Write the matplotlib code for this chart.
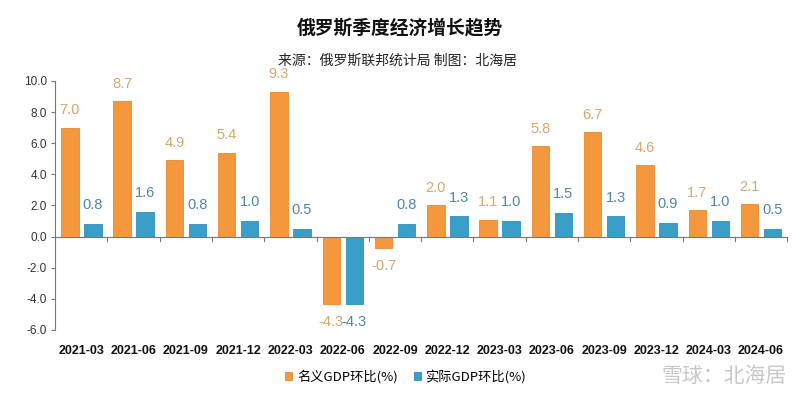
import matplotlib
matplotlib.use("Agg")
import matplotlib.pyplot as plt
import numpy as np
from matplotlib.ticker import FixedLocator, FormatStrFormatter

plt.rcParams['font.family'] = ['Liberation Sans', 'Noto Sans CJK SC', 'DejaVu Sans']

categories = ["2021-03", "2021-06", "2021-09", "2021-12", "2022-03", "2022-06", "2022-09",
              "2022-12", "2023-03", "2023-06", "2023-09", "2023-12", "2024-03", "2024-06"]
nominal = [7.0, 8.7, 4.9, 5.4, 9.3, -4.3, -0.7, 2.0, 1.1, 5.8, 6.7, 4.6, 1.7, 2.1]
real = [0.8, 1.6, 0.8, 1.0, 0.5, -4.3, 0.8, 1.3, 1.0, 1.5, 1.3, 0.9, 1.0, 0.5]
series_names = ["名义GDP环比(%)", "实际GDP环比(%)"]
yticks = [-6.0, -4.0, -2.0, 0.0, 2.0, 4.0, 6.0, 8.0, 10.0]

orange = "#F5983D"
blue = "#3A9FC8"
orange_lbl = "#D9A56E"
blue_lbl = "#4E86A8"

fig = plt.figure(figsize=(8, 4), dpi=100)
fig.patch.set_facecolor("white")
ax = fig.add_axes([0.069, 0.175, 0.915, 0.6225])

x = np.arange(len(categories))
w = 0.335
off = 0.22
b1 = ax.bar(x - off, nominal, w, color=orange, edgecolor="#E88A2E", linewidth=0.6, zorder=2)
b2 = ax.bar(x + off, real, w, color=blue, edgecolor="#2F8FB8", linewidth=0.6, zorder=2)

for xi, v in zip(x, nominal):
    ax.annotate(f"{v:.1f}", (xi - off, v), xytext=(0, 7.5 if v >= 0 else -8), textcoords="offset points",
                ha="center", va="bottom" if v >= 0 else "top", fontsize=10.5, color=orange_lbl, zorder=3)
for xi, v in zip(x, real):
    ax.annotate(f"{v:.1f}", (xi + off, v), xytext=(0, 8.5 if v >= 0 else -8), textcoords="offset points",
                ha="center", va="bottom" if v >= 0 else "top", fontsize=10.5, color=blue_lbl, zorder=3)

ax.set_xlim(-0.5, len(categories) - 0.5)
ax.set_ylim(-6, 10)
ax.yaxis.set_major_locator(FixedLocator(yticks))
ax.yaxis.set_major_formatter(FormatStrFormatter("%.1f"))
ax.tick_params(axis="y", direction="out", length=3, width=0.8, color="#777777", labelsize=8.5,
               labelcolor="#333333", pad=3)

ax.set_xticks(x)
ax.set_xticklabels(categories, fontsize=9, fontweight="bold", color="#111111")
ax.tick_params(axis="x", length=0, pad=11)

for s in ["top", "right", "bottom"]:
    ax.spines[s].set_visible(False)
ax.spines["left"].set_color("#777777")
ax.spines["left"].set_linewidth(0.8)
ax.axhline(0, color="#777777", linewidth=0.8, zorder=3)
for xb in np.arange(0.5, len(categories) + 0.5):
    ax.plot([xb, xb], [0, -0.3], color="#777777", linewidth=0.8, zorder=3, clip_on=False)

# title / subtitle
fig.text(0.5, 0.93, "俄罗斯季度经济增长趋势", ha="center", va="center", fontsize=13.5, fontweight="bold",
         family=["Noto Sans CJK SC"], color="#111111")
fig.text(0.497, 0.848, "来源：俄罗斯联邦统计局 制图：北海居", ha="center", va="center", fontsize=10,
         style="italic", family=["Noto Sans CJK SC"], color="#222222")

# legend
ax.legend([b1, b2], series_names, loc="center", bbox_to_anchor=(0.507, 0.0575), bbox_transform=fig.transFigure,
          ncol=2, frameon=False, handlelength=0.55, handleheight=0.55, handletextpad=0.35, columnspacing=1.2,
          prop={"family": ["Noto Sans CJK SC"], "size": 9.5})

# watermark
fig.text(0.905, 0.06, "雪球：北海居", ha="center", va="center", fontsize=15,
         family=["Noto Sans CJK SC"], color="#C8C8C8", zorder=10)

fig.savefig("out.png", dpi=100, facecolor="white")
